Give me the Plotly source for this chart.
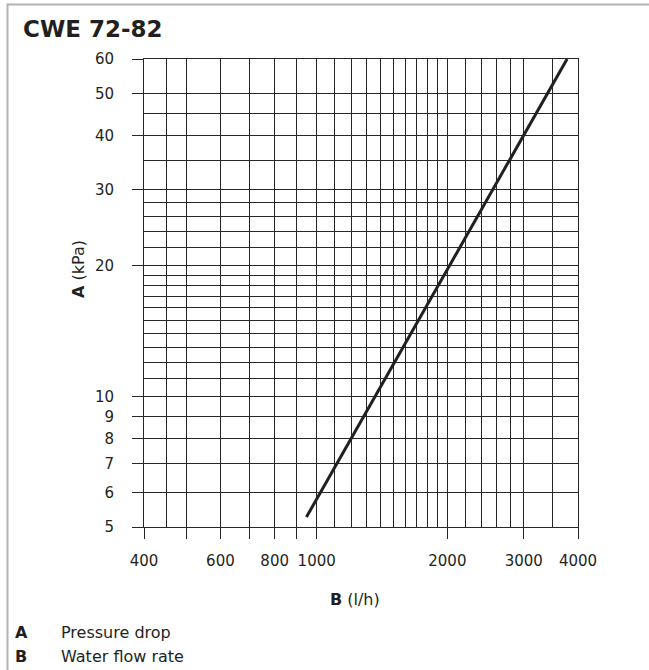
import numpy as np
import plotly.graph_objects as go

# ---- data ----
flow_lph = [947, 1200, 1500, 2000, 2500, 3000, 3500, 3775]
pressure_kpa = [5.27, 8.0, 11.8, 19.6, 29.1, 40.0, 52.5, 60.0]

x_major = [400, 500, 600, 700, 800, 900, 1000, 2000, 3000, 4000]
x_labels = ["400", "", "600", "", "800", "", "1000", "2000", "3000", "4000"]
x_minor = [450, 1100, 1200, 1300, 1400, 1500, 1600, 1700, 1800, 1900,
           2200, 2400, 2600, 2800, 3500]

y_major = [5, 6, 7, 8, 9, 10, 20, 30, 40, 50, 60]
y_labels = ["5", "6", "7", "8", "9", "10", "20", "30", "40", "50", "60"]
y_minor = [11, 12, 13, 14, 15, 16, 17, 18, 19, 22, 24, 26, 28, 35, 45]

title_text = "CWE 72-82"
legend_items = [("A", "Pressure drop"), ("B", "Water flow rate")]

FONT = "DejaVu Sans"
INK = "#231f20"
GRID = "#262626"

fig = go.Figure()
fig.add_trace(go.Scatter(
    x=flow_lph, y=pressure_kpa, mode="lines",
    line=dict(color=INK, width=3), hoverinfo="skip", showlegend=False,
))

W, H = 649, 670
L, R, T, B = 144, 71, 59, 143
pw, ph = W - L - R, H - T - B


def px(x):
    return (x - L) / pw


def py(y):
    return (H - B - y) / ph


axis_common = dict(
    type="log", showgrid=True, gridcolor=GRID, gridwidth=1,
    ticks="outside", ticklen=11, tickwidth=1, tickcolor=GRID,
    showline=True, mirror=True, linecolor=GRID, linewidth=1,
    zeroline=False, tickfont=dict(family=FONT, size=15, color=INK),
)

fig.update_layout(
    width=W, height=H,
    margin=dict(l=L, r=R, t=T, b=B),
    paper_bgcolor="white", plot_bgcolor="white",
    showlegend=False,
    xaxis=dict(
        range=[np.log10(x_major[0]), np.log10(x_major[-1])],
        tickmode="array", tickvals=x_major, ticktext=x_labels,
        minor=dict(tickmode="array", tickvals=x_minor, showgrid=True,
                   gridcolor=GRID, gridwidth=1, ticks=""),
        ticklabelstandoff=9,
        **axis_common,
    ),
    yaxis=dict(
        range=[np.log10(y_major[0]), np.log10(y_major[-1])],
        tickmode="array", tickvals=y_major, ticktext=y_labels,
        minor=dict(tickmode="array", tickvals=y_minor, showgrid=True,
                   gridcolor=GRID, gridwidth=1, ticks=""),
        ticklabelstandoff=15,
        **axis_common,
    ),
)

annotations = [
    dict(text="<b>" + title_text + "</b>", x=px(21), y=py(29), xanchor="left",
         yanchor="middle", font=dict(family=FONT, size=23, color=INK)),
    dict(text="<b>A</b> (kPa)", x=px(78), y=py(269), textangle=-90,
         xanchor="center", yanchor="middle",
         font=dict(family=FONT, size=16, color=INK)),
    dict(text="<b>B</b> (l/h)", x=px(355), y=py(599), xanchor="center",
         yanchor="middle", font=dict(family=FONT, size=16, color=INK)),
]
rows_y = [632, 656]
for (k, v), yy in zip(legend_items, rows_y):
    annotations.append(dict(text="<b>" + k + "</b>", x=px(13), y=py(yy),
                            xanchor="left", yanchor="middle",
                            font=dict(family=FONT, size=16, color=INK)))
    annotations.append(dict(text=v, x=px(59), y=py(yy), xanchor="left",
                            yanchor="middle",
                            font=dict(family=FONT, size=16, color=INK)))
for a in annotations:
    a.update(xref="paper", yref="paper", showarrow=False)
fig.update_layout(annotations=annotations)

# outer frame (top and left edges)
frame = dict(color="#b3b3b3", width=2)
fig.add_shape(type="line", xref="paper", yref="paper",
              x0=px(7.5), x1=px(W + 2), y0=py(4.5), y1=py(4.5), line=frame)
fig.add_shape(type="line", xref="paper", yref="paper",
              x0=px(7.5), x1=px(7.5), y0=py(3.5), y1=py(H + 2), line=frame)

fig.write_html("out.html",
               config={"displayModeBar": False},
               post_script="document.body.style.margin='0';"
                           "document.body.style.overflow='hidden';")
